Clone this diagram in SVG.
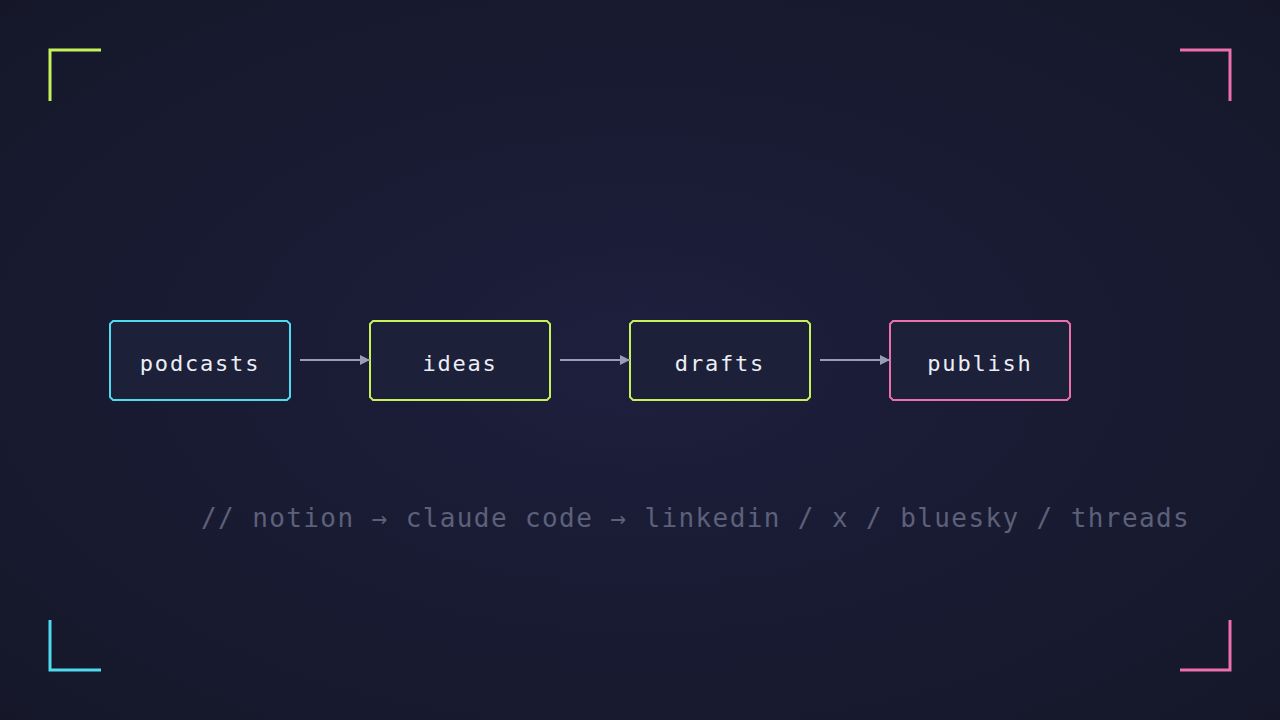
<svg xmlns="http://www.w3.org/2000/svg" width="1280" height="720" viewBox="0 0 1280 720">
<defs>
<radialGradient id="bg" cx="50%" cy="50%" r="70%"><stop offset="0" stop-color="#1d1f3d"/><stop offset="1" stop-color="#151729"/></radialGradient>
<marker id="ah" markerWidth="10" markerHeight="10" refX="10" refY="5" orient="auto" markerUnits="userSpaceOnUse"><path d="M0,0 L10,5 L0,10 Z" fill="#9a9db5"/></marker>
</defs>
<style>
.box{fill:#1c2039;stroke-width:2}
.lbl{font-family:"DejaVu Sans Mono","Liberation Mono",monospace;font-size:22px;letter-spacing:1.8px;fill:#eceef6;text-anchor:middle}
.con{stroke:#9a9db5;stroke-width:2;fill:none;marker-end:url(#ah)}
.br{fill:none;stroke-width:3}
</style>
<rect width="1280" height="720" fill="url(#bg)"/>
<path class="br" d="M50,101 V50 H101" stroke="#c6f15a"/>
<path class="br" d="M1180,50 H1230 V101" stroke="#ec6fae"/>
<path class="br" d="M50,620 V670 H101" stroke="#4fdaf0"/>
<path class="br" d="M1180,670 H1230 V620" stroke="#ec6fae"/>
<g id="podcasts"><path class="box" stroke="#4fdaf0" d="M113,321 H287 L290,324 V397 L287,400 H113 L110,397 V324 Z"/><text class="lbl" x="200" y="371">podcasts</text></g>
<g id="ideas"><path class="box" stroke="#c6f15a" d="M373,321 H547 L550,324 V397 L547,400 H373 L370,397 V324 Z"/><text class="lbl" x="460" y="371">ideas</text></g>
<g id="drafts"><path class="box" stroke="#c6f15a" d="M633,321 H807 L810,324 V397 L807,400 H633 L630,397 V324 Z"/><text class="lbl" x="720" y="371">drafts</text></g>
<g id="publish"><path class="box" stroke="#ec6fae" d="M893,321 H1067 L1070,324 V397 L1067,400 H893 L890,397 V324 Z"/><text class="lbl" x="980" y="371">publish</text></g>
<g id="connectors">
<line class="con" x1="300" y1="360" x2="370" y2="360"/>
<line class="con" x1="560" y1="360" x2="630" y2="360"/>
<line class="con" x1="820" y1="360" x2="890" y2="360"/>
</g>
<text x="201" y="527" font-family="DejaVu Sans Mono,Liberation Mono,monospace" font-size="26" letter-spacing="1.4" fill="#5d6079">// notion → claude code → linkedin / x / bluesky / threads</text>
</svg>
